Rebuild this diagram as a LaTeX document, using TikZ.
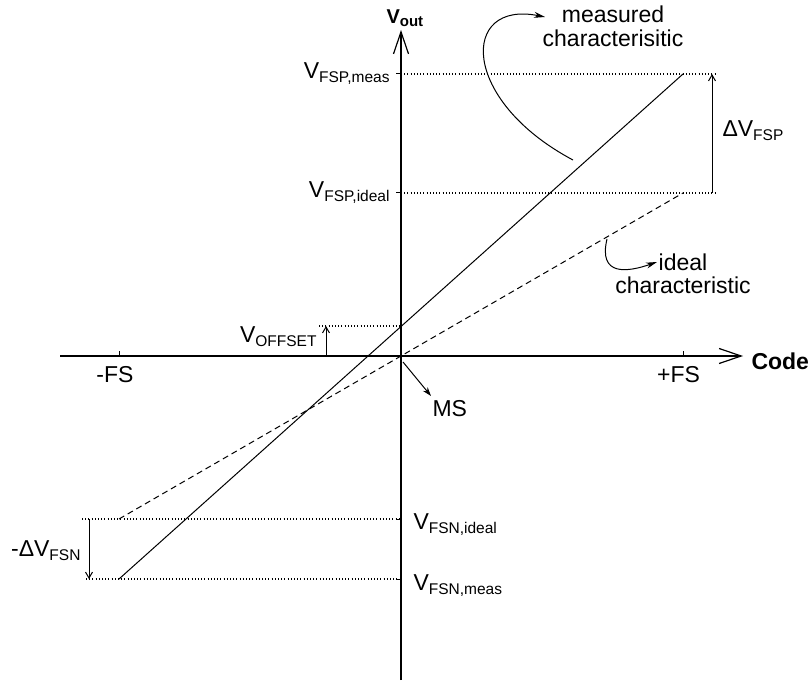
\documentclass[tikz,border=0pt]{standalone}
\usepackage{fontspec}
\setmainfont{Liberation Sans}
\usetikzlibrary{arrows.meta}
\newcommand{\vsub}[1]{\raisebox{-4pt}{\fontsize{15.5}{16}\selectfont #1}}
\begin{document}
\begin{tikzpicture}[x=1pt,y=-1pt,line width=1pt,
  lbl/.style={inner sep=0pt, font=\fontsize{23}{24}\selectfont},
  axislbl/.style={inner sep=0pt, font=\fontsize{23}{24}\selectfont\bfseries},
  axis/.style={line width=1.2pt, -{Straight Barb[length=22pt,width=15pt,line width=1.2pt]}},
  dimarrow/.style={line width=1pt, -{Straight Barb[length=6pt,width=7pt]}},
  dots/.style={line width=1.1pt, dash pattern=on 1pt off 2.2pt},
  idealline/.style={line width=1pt, dash pattern=on 6pt off 4pt},
  curvearrow/.style={line width=1pt, -{Stealth[length=11pt,width=6pt]}},
  tick/.style={line width=1pt}
]
\useasboundingbox (0,0) rectangle (811,684);
% coordinates
\coordinate (O) at (401,356);
\coordinate (ytop) at (401,30);
\coordinate (ybot) at (401,680);
\coordinate (xl) at (60,356);
\coordinate (xr) at (743,356);
\coordinate (mlo) at (119,579);
\coordinate (mhi) at (683,74);
\coordinate (ilo) at (119,519);
\coordinate (ihi) at (683,193);
\coordinate (fspm) at (401,74);
\coordinate (fspi) at (401,193);
\coordinate (fsni) at (401,519);
\coordinate (fsnm) at (401,579);
\coordinate (fspmR) at (717,74);
\coordinate (fspiR) at (717,193);
\coordinate (fsniL) at (82,519);
\coordinate (fsnmL) at (86,579);
\coordinate (offA) at (319,326);
\coordinate (offB) at (401,326);
\coordinate (dpA) at (712,193);
\coordinate (dpB) at (712,74);
\coordinate (dnA) at (89,519);
\coordinate (dnB) at (89,579);
\coordinate (voA) at (326,356);
\coordinate (voB) at (326,326);
\coordinate (msA) at (403,362);
\coordinate (msB) at (431,396);
\coordinate (mcA) at (573,160);
\coordinate (mcB) at (545,17);
\coordinate (icA) at (607,239);
\coordinate (icB) at (657,262);

% axes
\draw[axis] (ybot) -- (ytop);
\draw[axis] (xl) -- (xr);
% ticks
\draw[tick] (119,356) -- (119,351);
\draw[tick] (683,356) -- (683,351);
\foreach \yy in {74,193,519,579} \draw[tick] (396,\yy) -- (401,\yy);

% dotted guide lines
\draw[dots] (fspm) -- (fspmR);
\draw[dots] (fspi) -- (fspiR);
\draw[dots] (fsniL) -- (fsni);
\draw[dots] (fsnmL) -- (fsnm);
\draw[dots] (offA) -- (offB);

% characteristics
\draw (mlo) -- (mhi);
\draw[idealline] (ilo) -- (ihi);

% dimension arrows
\draw[dimarrow] (dpA) -- (dpB);
\draw[dimarrow] (dnA) -- (dnB);
\draw[dimarrow] (voA) -- (voB);
\draw[line width=1pt, -{Stealth[length=9pt,width=6pt]}] (msA) -- (msB);

% curved pointers
\draw[curvearrow] (mcA) .. controls (460,100) and (460,0) .. (mcB);
\draw[curvearrow] (icA) .. controls (598,277) and (628,272) .. (icB);

% labels
\node[axislbl, anchor=base west, font=\fontsize{20}{20}\selectfont\bfseries] (vout) at (386,24) {V\raisebox{-3pt}{\fontsize{15}{16}\selectfont out}};
\node[axislbl, anchor=base west] (code) at (751,370) {Code};
\node[lbl, anchor=base] (mfs) at (115,382) {-FS};
\node[lbl, anchor=base] (pfs) at (678.5,382) {+FS};
\node[lbl, anchor=base west] (ms) at (432,417) {MS};
\node[lbl, anchor=base east] (lfspm) at (390,79) {V\vsub{FSP,meas}};
\node[lbl, anchor=base east] (lfspi) at (390,198) {V\vsub{FSP,ideal}};
\node[lbl, anchor=base west] (lfsni) at (413,529) {V\vsub{FSN,ideal}};
\node[lbl, anchor=base west] (lfsnm) at (413,590) {V\vsub{FSN,meas}};
\node[lbl, anchor=base east] (loff) at (317,343) {V\vsub{OFFSET}};
\node[lbl, anchor=base west] (ldfsp) at (722,137) {ΔV\vsub{FSP}};
\node[lbl, anchor=base east] (ldfsn) at (81,556) {-ΔV\vsub{FSN}};
\node[lbl, anchor=north, align=center] (meas) at (613,5) {measured\\characterisitic};
\node[lbl, anchor=north, align=center, font=\fontsize{23}{23}\selectfont] (ideal) at (683,253.5) {ideal\\characteristic};
\end{tikzpicture}
\end{document}
